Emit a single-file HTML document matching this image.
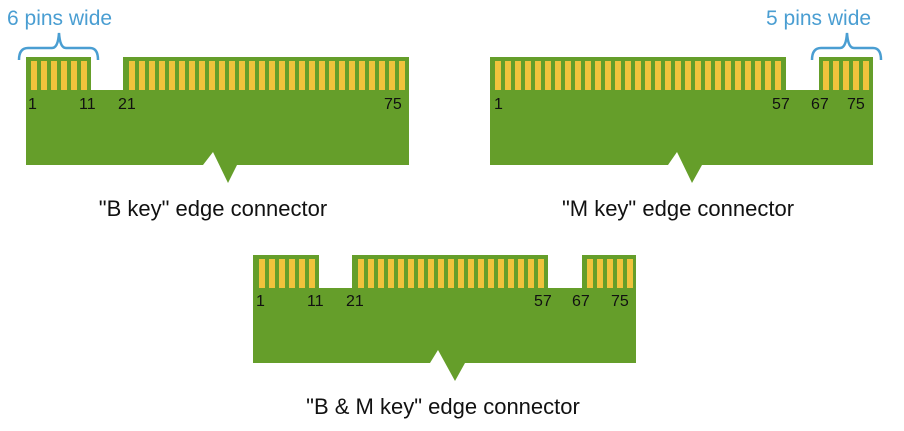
<!DOCTYPE html>
<html><head><meta charset="utf-8"><style>
html,body{margin:0;padding:0;background:#fff;}
svg{display:block;}
text{font-family:"Liberation Sans",Arial,sans-serif;}
</style></head><body>
<svg width="904" height="431" viewBox="0 0 904 431" xmlns="http://www.w3.org/2000/svg">
<defs>
<pattern id="p1" patternUnits="userSpaceOnUse" x="1" y="0" width="10" height="431"><rect x="0" y="0" width="6" height="431" fill="#f0c33c"/></pattern>
<pattern id="p9" patternUnits="userSpaceOnUse" x="9" y="0" width="10" height="431"><rect x="0" y="0" width="6" height="431" fill="#f0c33c"/></pattern>
<pattern id="p5" patternUnits="userSpaceOnUse" x="5" y="0" width="10" height="431"><rect x="0" y="0" width="6" height="431" fill="#f0c33c"/></pattern>
<pattern id="p3" patternUnits="userSpaceOnUse" x="3" y="0" width="10" height="431"><rect x="0" y="0" width="6" height="431" fill="#f0c33c"/></pattern>
<pattern id="p8" patternUnits="userSpaceOnUse" x="8" y="0" width="10" height="431"><rect x="0" y="0" width="6" height="431" fill="#f0c33c"/></pattern>
<pattern id="p7" patternUnits="userSpaceOnUse" x="7" y="0" width="10" height="431"><rect x="0" y="0" width="6" height="431" fill="#f0c33c"/></pattern>
</defs>
<g fill="#659e2a">
<polygon points="26,57 91,57 91,90 123,90 123,57 409,57 409,165 237,165 228,183 213,152 203,165 26,165"/>
<polygon points="490,57 786,57 786,90 819,90 819,57 873,57 873,165 702,165 692,183 677,152 668,165 490,165"/>
<polygon points="253,255 319,255 319,288 352,288 352,255 548,255 548,288 582,288 582,255 636,255 636,363 465,363 455,381 438,350 430,363 253,363"/>
</g>
<rect x="31" y="61" width="56" height="29" fill="url(#p1)"/>
<rect x="129" y="61" width="276" height="29" fill="url(#p9)"/>
<rect x="495" y="61" width="286" height="29" fill="url(#p5)"/>
<rect x="823" y="61" width="46" height="29" fill="url(#p3)"/>
<rect x="259" y="259" width="56" height="29" fill="url(#p9)"/>
<rect x="358" y="259" width="186" height="29" fill="url(#p8)"/>
<rect x="587" y="259" width="46" height="29" fill="url(#p7)"/>
<g font-size="16" fill="#111">
<text x="28" y="109">1</text><text x="79" y="109">11</text><text x="118" y="109">21</text><text x="384" y="109">75</text>
<text x="494" y="109">1</text><text x="772" y="109">57</text><text x="811" y="109">67</text><text x="847" y="109">75</text>
<text x="256" y="306">1</text><text x="307" y="306">11</text><text x="346" y="306">21</text><text x="534" y="306">57</text><text x="572" y="306">67</text><text x="611" y="306">75</text>
</g>
<g font-size="22" fill="#111" text-anchor="middle">
<text x="213" y="216">"B key" edge connector</text>
<text x="678" y="216">"M key" edge connector</text>
<text x="443" y="414">"B &amp; M key" edge connector</text>
</g>
<g font-size="21" fill="#4a9ed2">
<text x="7" y="25">6 pins wide</text>
<text x="766" y="25">5 pins wide</text>
</g>
<g fill="none" stroke="#4a9ed2" stroke-width="2.5">
<path d="M19,60 Q19,48 28,48 L52,48 Q58,48 59,33 Q60,48 66,48 L90,48 Q98,48 98,60"/>
<path d="M812,60 Q812,48 821,48 L840,48 Q846,48 847,33 Q848,48 854,48 L873,48 Q881,48 881,60"/>
</g>
</svg>
</body></html>
